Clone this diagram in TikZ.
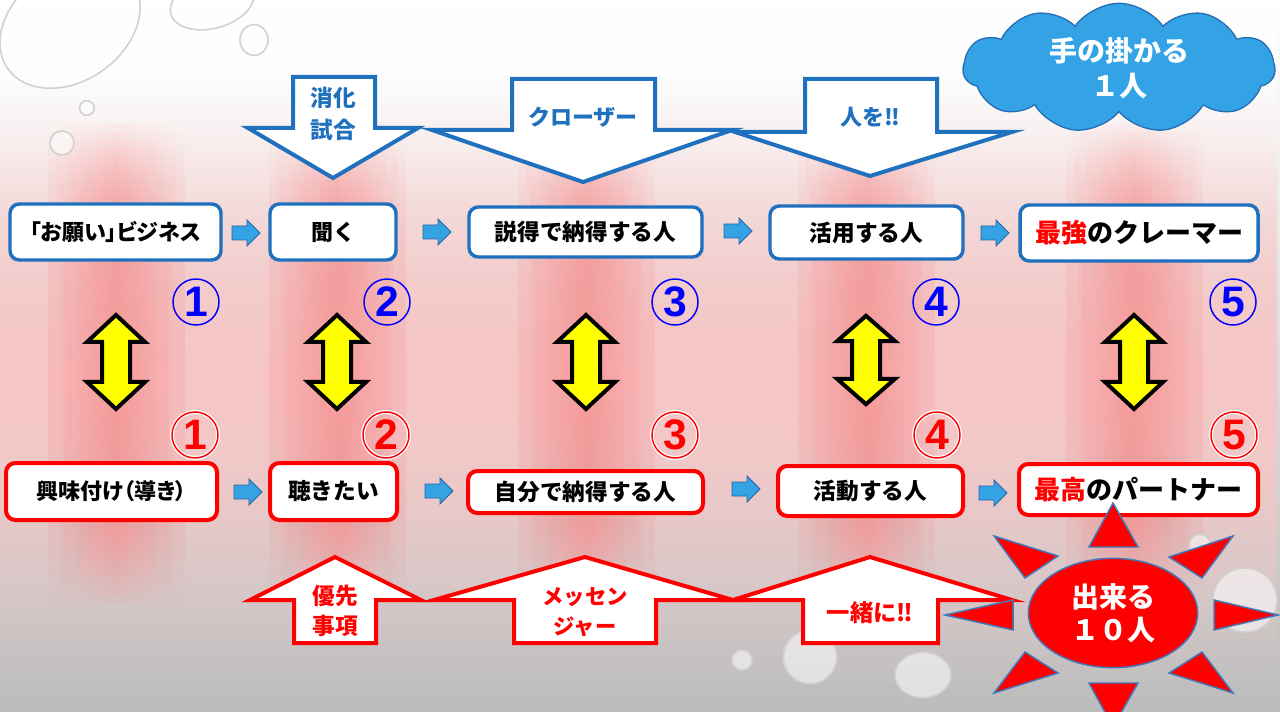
\documentclass[tikz,border=0pt]{standalone}
\usepackage{fontspec}
\setmainfont{Liberation Sans}
\newfontfamily\jp{Noto Sans CJK JP}
\newfontfamily\jpp{Noto Sans CJK JP}[RawFeature=+palt]
\usetikzlibrary{shapes.geometric,shapes.symbols,fadings,fit}
\definecolor{bblue}{RGB}{31,112,190}
\definecolor{ablue}{RGB}{51,163,228}
\definecolor{aedge}{RGB}{40,100,170}
\definecolor{cloudfill}{RGB}{52,163,230}
\definecolor{cloudedge}{RGB}{40,110,180}
\definecolor{sunedge}{RGB}{65,120,185}
\definecolor{bgbot}{RGB}{188,188,188}
\definecolor{pinkA}{RGB}{247,198,198}
\definecolor{bandred}{RGB}{252,130,130}
\definecolor{yel}{RGB}{255,255,0}
\tikzfading[name=vsoft, top color=transparent!100, bottom color=transparent!100, middle color=transparent!0]
\tikzfading[name=hband, left color=transparent!100, right color=transparent!100, middle color=transparent!0]
\tikzfading[name=fadedown, top color=transparent!0, bottom color=transparent!100]
\tikzset{
  tbox/.style={draw=bblue, line width=2.6pt, fill=white, rounded corners=7pt, inner sep=0pt},
  rbox/.style={draw=red, line width=3pt, fill=white, rounded corners=7pt, inner sep=0pt},
  jpt/.style={font={\jp\bfseries\fontsize{#1}{#1}\selectfont}, inner sep=0pt},
  jpp/.style={font={\jpp\bfseries\fontsize{#1}{#1}\selectfont}, inner sep=0pt},
  mline/.style 2 args={font={\jp\bfseries\fontsize{#1}{#2}\selectfont}, align=center, inner sep=0pt},
  downarrow/.style={draw=bblue, line width=3pt, fill=white, miter limit=20},
  uparrow/.style={draw=red, line width=3pt, fill=white, miter limit=20},
  smallarrow/.pic={\draw[fill=ablue, draw=aedge, line width=0.6pt] (-14,-7)--(1,-7)--(1,-13)--(14,0)--(1,13)--(1,7)--(-14,7)--cycle;},
  dblarrow/.pic={\draw[fill=yel, draw=black, line width=3pt, miter limit=10] (0,-47)--(29,-20)--(14,-20)--(14,20)--(29,20)--(0,47)--(-29,20)--(-14,20)--(-14,-20)--(-29,-20)--cycle;},
  bnum/.style={circle, draw=blue, line width=1.1pt, minimum size=34.5pt, inner sep=0pt, text=blue, font={\bfseries\fontsize{32}{32}\selectfont}},
  rnum/.style={circle, draw=red, line width=1.1pt, preaction={draw=white, line width=3pt}, minimum size=34.5pt, inner sep=0pt, text=red, font={\bfseries\fontsize{32}{32}\selectfont}},
  drop/.style={fill=white, fill opacity=.55, draw=black!18, line width=1.2pt},
  ray/.style={fill=red, draw=sunedge, line width=1.1pt},
}
\begin{document}
\begin{tikzpicture}[x=0.75pt,y=-0.75pt]
\useasboundingbox (0,0) rectangle (1280,712);
\clip (0,0) rectangle (1280,712);
% background
\shade[top color=white, bottom color=bgbot] (0,0) rectangle (1280,712);
\fill[white, path fading=fadedown] (0,0) rectangle (1280,330);
\fill[pinkA, path fading=vsoft] (0,80) rectangle (1280,690);
\fill[pinkA, path fading=vsoft, opacity=.6] (0,150) rectangle (1280,560);
\foreach \cx in {116,337,586,866,1134}{
  \foreach \k in {1,...,12}{
    \fill[bandred, opacity=.07, path fading=hband] (\cx-70,220-8*\k) rectangle (\cx+70,520+7*\k);
  }
}
% drops
\draw[drop, rotate around={35:(70,25)}] (70,25) ellipse (57pt and 42pt);
\draw[drop, rotate around={15:(212,3)}] (212,3) ellipse (32pt and 19pt);
\draw[drop] (254,40) ellipse (10.5pt and 11.5pt);
\draw[drop] (87,108) circle (5.5pt);
\draw[drop] (62,143) circle (9pt);
\draw[drop] (742,660) circle (7.5pt);
\draw[drop] (810,657) circle (20pt);
\draw[drop] (923,675) ellipse (21pt and 17pt);
\draw[drop] (1200,545) circle (8pt);
\draw[drop] (1245,600) circle (24pt);
% top down arrows
\draw[downarrow] (293,77)--(375,77)--(375,128)--(418,128)--(333,178)--(248,128)--(293,128)--cycle;
\node[mline={17}{24.5}, text=bblue] (da1) at (333,114) {消化\\試合};
\draw[downarrow] (512,79)--(655,79)--(655,130)--(732,130)--(583,182)--(432,130)--(512,130)--cycle;
\node[jpt=16.5, text=bblue] (da2) at (583,117) {クローザー};
\draw[downarrow] (805,79)--(937,79)--(937,132)--(1012,132)--(870,176)--(735,132)--(805,132)--cycle;
\node[jpt=16.5, text=bblue] (da3) at (870,117) {人を‼};
% cloud
\node[cloud, cloud puffs=11, cloud puff arc=110, aspect=2.4, fill=cloudfill, draw=cloudedge, line width=1pt, minimum width=234pt, minimum height=97pt] (cloud) at (1119,68) {};
\node[mline={21}{26}, text=white] (cloudtxt) at (cloud.center) {手の掛かる\\１人};
% top boxes
\node[tbox, fit={(10,204) (221,260)}] (t1) {};
\node[jpp=16.5] at (t1.center) {「お願い」ビジネス};
\node[tbox, fit={(270,204) (396,260)}] (t2) {};
\node[jpt=16.5] at (t2.center) {聞く};
\node[tbox, fit={(469,207) (702,257)}] (t3) {};
\node[jpt=17] at (t3.center) {説得で納得する人};
\node[tbox, fit={(770,206) (963,259)}] (t4) {};
\node[jpt=17] at (t4.center) {活用する人};
\node[tbox, fit={(1020,205) (1258,261)}] (t5) {};
\node[jpt=19.5] at (t5.center) {\textcolor{red}{最強}のクレーマー};
\pic at (246,233) {smallarrow};
\pic at (437,232) {smallarrow};
\pic at (738,231) {smallarrow};
\pic at (995,233) {smallarrow};
% numbers
\node[bnum] (b1) at (196,302) {1};
\node[bnum] (b2) at (387,302) {2};
\node[bnum] (b3) at (675,302) {3};
\node[bnum] (b4) at (936,302) {4};
\node[bnum] (b5) at (1233,302) {5};
\node[rnum] (r1) at (195,435) {1};
\node[rnum] (r2) at (386,435) {2};
\node[rnum] (r3) at (675,435) {3};
\node[rnum] (r4) at (937,435) {4};
\node[rnum] (r5) at (1234,435) {5};
% double arrows
\pic at (116,362) {dblarrow};
\pic at (337,362) {dblarrow};
\pic at (586,362) {dblarrow};
\pic[yscale=.94] at (866,360) {dblarrow};
\pic at (1134,362) {dblarrow};
% bottom boxes
\node[rbox, fit={(6,463) (217,520)}] (s1) {};
\node[jpp=16.5] at (s1.center) {興味付け（導き）};
\node[rbox, fit={(270,463) (397,520)}] (s2) {};
\node[jpt=17] at (s2.center) {聴きたい};
\node[rbox, fit={(468,471) (703,513)}] (s3) {};
\node[jpt=17] at (s3.center) {自分で納得する人};
\node[rbox, fit={(778,466) (963,516)}] (s4) {};
\node[jpt=17] at (s4.center) {活動する人};
\node[rbox, fit={(1019,464) (1258,515)}] (s5) {};
\node[jpt=19.5] at (s5.center) {\textcolor{red}{最高}のパートナー};
\pic at (248,492) {smallarrow};
\pic at (439,491) {smallarrow};
\pic at (746,489) {smallarrow};
\pic at (993,493) {smallarrow};
% bottom up arrows
\draw[uparrow] (294,643)--(376,643)--(376,600)--(421,600)--(335,557)--(250,600)--(294,600)--cycle;
\node[mline={17}{23}, text=red] (ua1) at (335,611) {優先\\事項};
\draw[uparrow] (514,643)--(656,643)--(656,600)--(733,600)--(585,557)--(434,600)--(514,600)--cycle;
\node[mline={16}{23}, text=red] (ua2) at (585,612) {メッセン\\ジャー};
\draw[uparrow] (803,643)--(938,643)--(938,600)--(1012,600)--(870,557)--(733,600)--(803,600)--cycle;
\node[jpt=17.5, text=red] (ua3) at (870,613) {一緒に‼};
% sun
\draw[ray] (1089,547)--(1113,503)--(1138,547)--cycle;
\draw[ray] (1089,683)--(1113,727)--(1138,683)--cycle;
\draw[ray] (1013,600)--(945,615)--(1013,630)--cycle;
\draw[ray] (1214,600)--(1278,615)--(1214,630)--cycle;
\draw[ray] (994,536)--(1058,556)--(1025,578)--cycle;
\draw[ray] (1233,536)--(1169,557)--(1202,578)--cycle;
\draw[ray] (994,693)--(1025,652)--(1058,673)--cycle;
\draw[ray] (1233,693)--(1202,652)--(1169,673)--cycle;
\node[ellipse, fill=red, draw=sunedge, line width=1.1pt, minimum width=127pt, minimum height=82pt] (sun) at (1113,613) {};
\node[mline={21}{25}, text=white] (suntxt) at (sun.center) {出来る\\１０人};
\end{tikzpicture}
\end{document}
